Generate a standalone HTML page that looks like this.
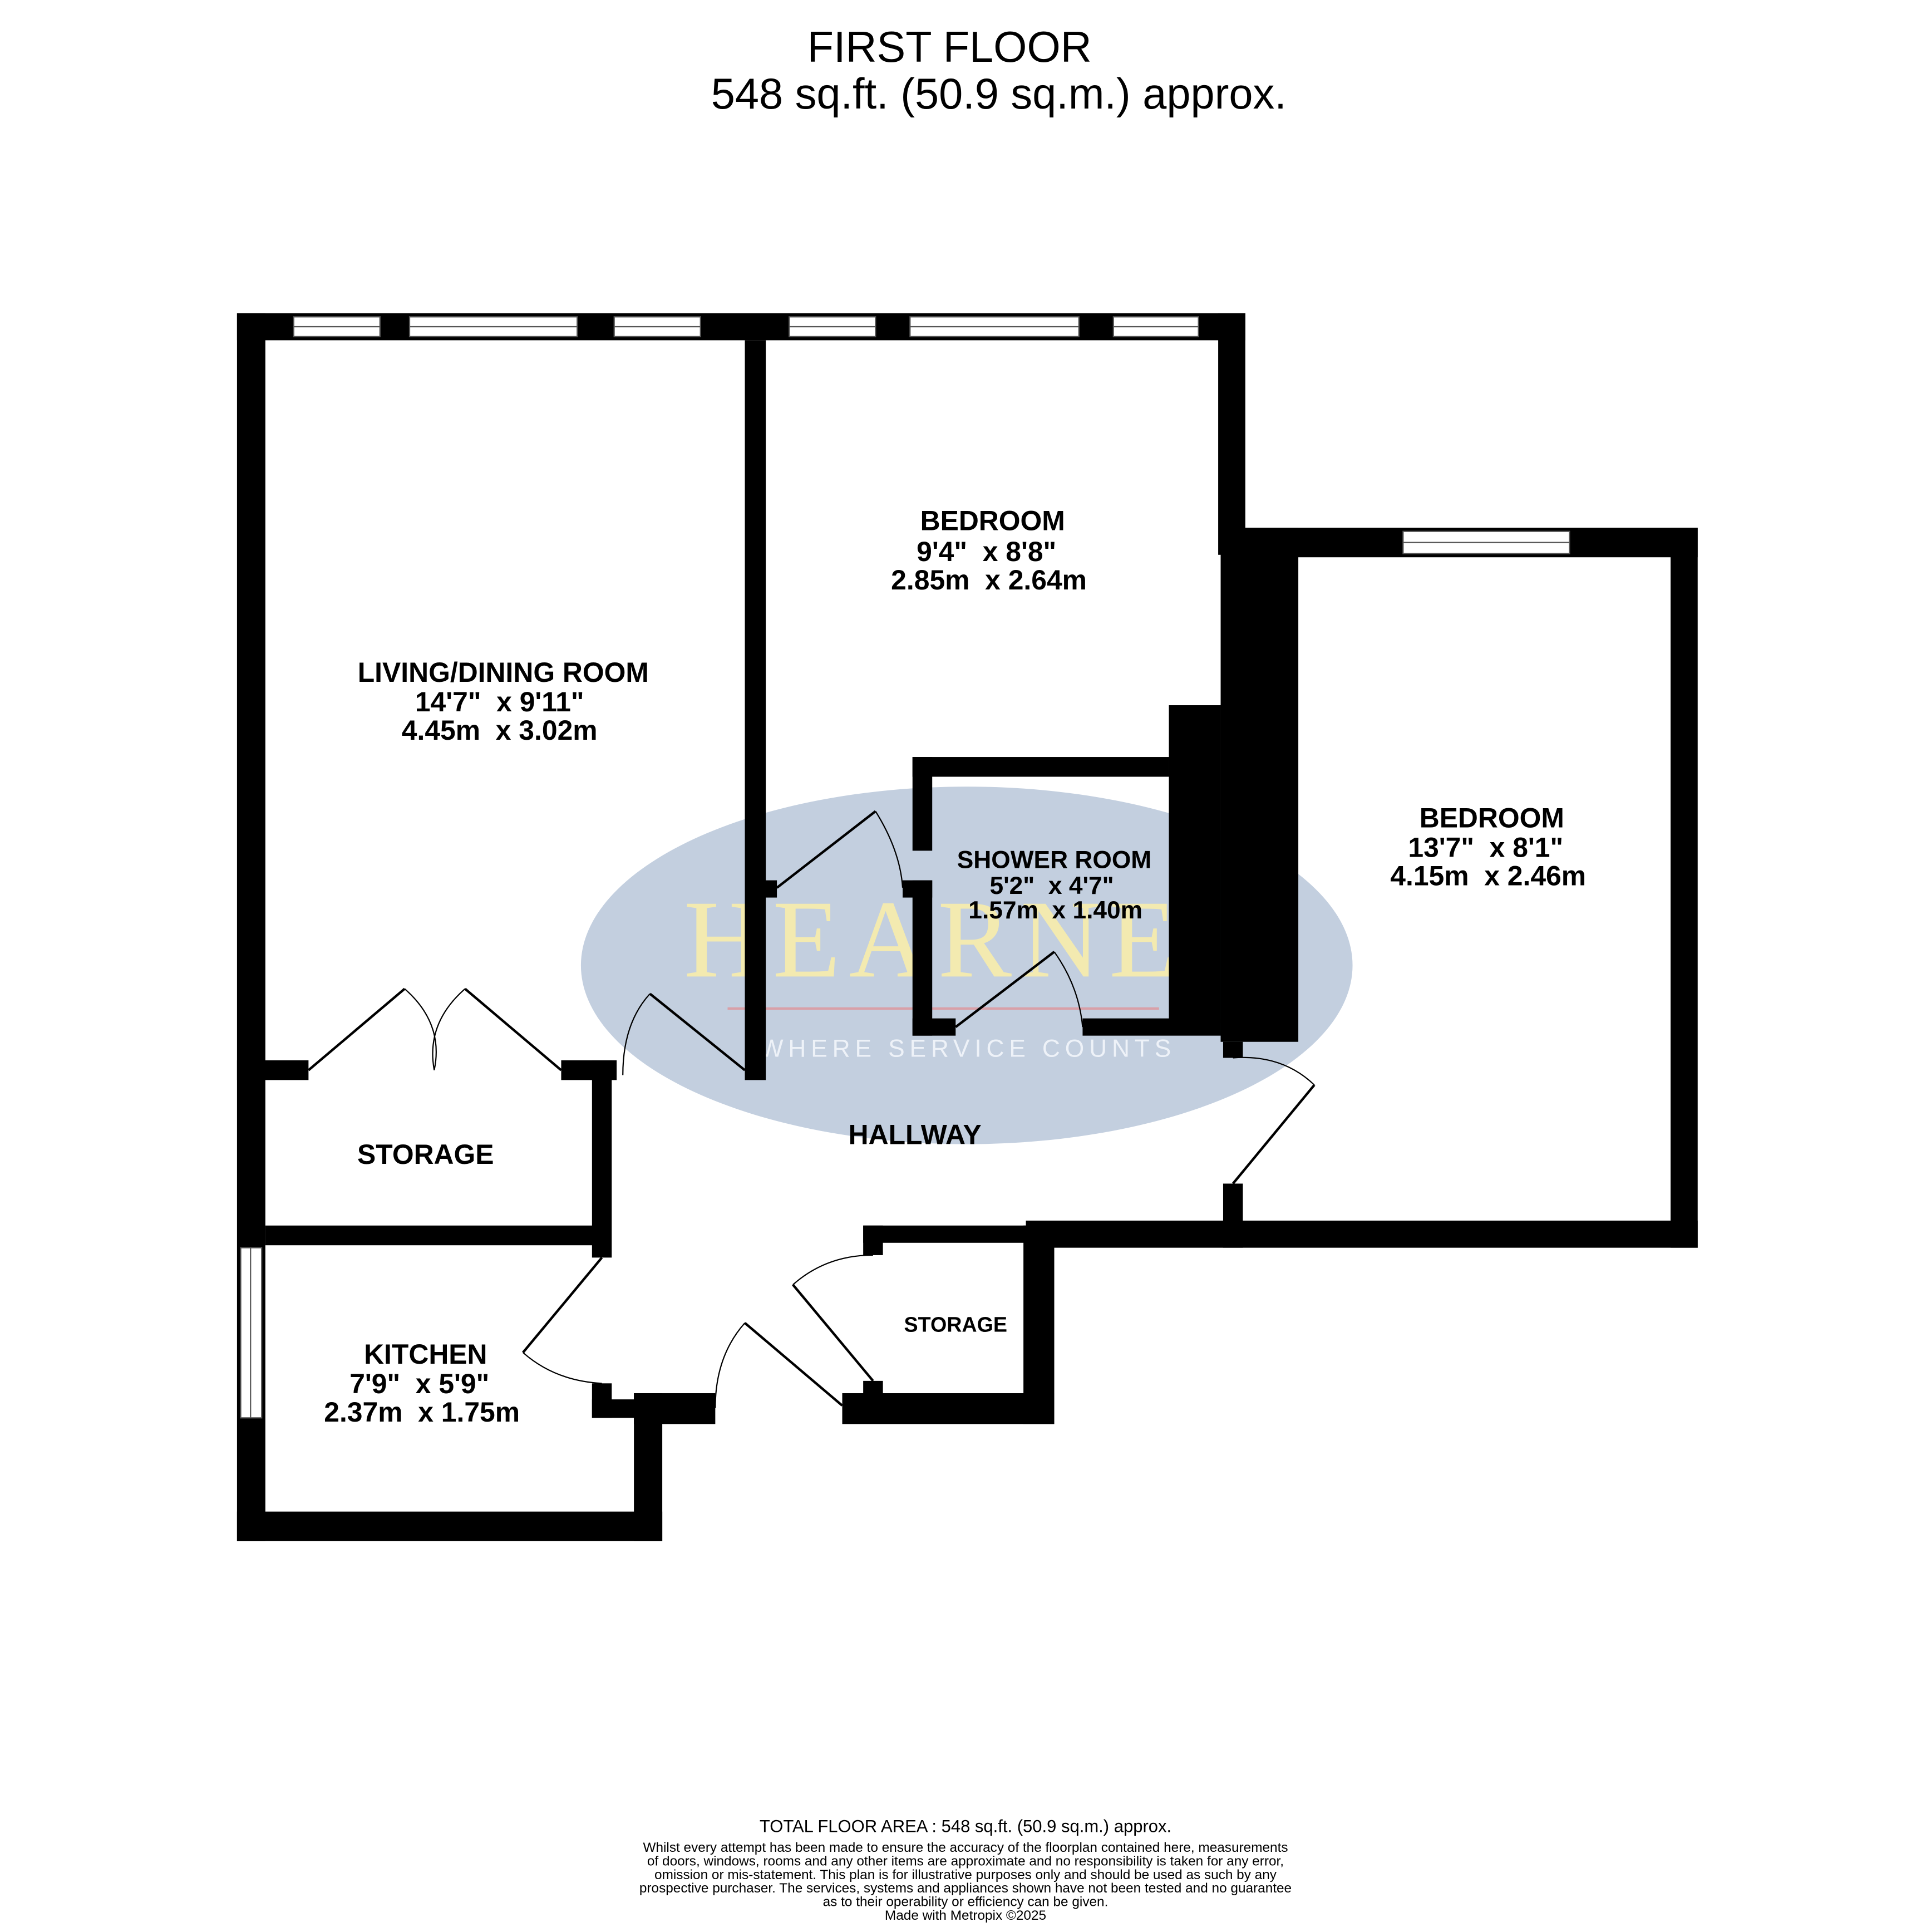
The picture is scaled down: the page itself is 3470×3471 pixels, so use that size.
<!DOCTYPE html>
<html><head><meta charset="utf-8"><style>
html,body{margin:0;padding:0;background:#fff;}
svg{display:block;}
text{font-family:"Liberation Sans",sans-serif;white-space:pre;}
</style></head><body>
<svg width="3470" height="3471" viewBox="0 0 1566 1567" xmlns="http://www.w3.org/2000/svg">
<rect width="1566" height="1567" fill="#fff"/>
<ellipse cx="784" cy="783" rx="313" ry="145" fill="#c3cfdf"/>
<text x="758" y="792" text-anchor="middle" font-size="90" fill="#f3eab0" letter-spacing="7" style="font-family:'Liberation Serif',serif">HEARNE</text>
<line x1="590" y1="818" x2="940" y2="818" stroke="#d9a0a8" stroke-width="2"/>
<text x="785" y="857" text-anchor="middle" font-size="20" fill="#eef2f8" letter-spacing="4">WHERE SERVICE COUNTS</text>

<text x="770" y="50" text-anchor="middle" font-size="35">FIRST FLOOR</text>
<text x="810" y="88" text-anchor="middle" font-size="35">548 sq.ft. (50.9 sq.m.) approx.</text>

<g fill="#000">
<rect x="192" y="254" width="818" height="22"/>
<rect x="192" y="254" width="23" height="996"/>
<rect x="604" y="276" width="17" height="600"/>
<rect x="988" y="254" width="22" height="196"/>
<rect x="1010" y="428" width="367" height="24"/>
<rect x="1355" y="428" width="22" height="584"/>
<rect x="832" y="990" width="545" height="22"/>
<rect x="990" y="428" width="63" height="417"/>
<rect x="948" y="572" width="42" height="258"/>
<rect x="740" y="614" width="208" height="16"/>
<rect x="740" y="614" width="16" height="76"/>
<rect x="732" y="714" width="24" height="14"/>
<rect x="740" y="714" width="16" height="126"/>
<rect x="740" y="826" width="35" height="14"/>
<rect x="878" y="826" width="112" height="14"/>
<rect x="620" y="714" width="10" height="14"/>
<rect x="992" y="845" width="16" height="13"/>
<rect x="992" y="960" width="16" height="52"/>
<rect x="192" y="860" width="58" height="16"/>
<rect x="455" y="860" width="45" height="16"/>
<rect x="480" y="860" width="16" height="160"/>
<rect x="215" y="994" width="275" height="16"/>
<rect x="192" y="1226" width="345" height="24"/>
<rect x="514" y="1130" width="23" height="120"/>
<rect x="480" y="1122" width="16" height="28"/>
<rect x="480" y="1135" width="57" height="15"/>
<rect x="514" y="1130" width="66" height="25"/>
<rect x="700" y="994" width="155" height="14"/>
<rect x="700" y="994" width="16" height="24"/>
<rect x="830" y="994" width="25" height="161"/>
<rect x="683" y="1130" width="172" height="25"/>
<rect x="700" y="1120" width="16" height="20"/>
</g>
<g fill="#fff" stroke="#555" stroke-width="1">
<rect x="238" y="257" width="70" height="16"/><rect x="332" y="257" width="136" height="16"/><rect x="498" y="257" width="70" height="16"/>
<rect x="640" y="257" width="70" height="16"/><rect x="738" y="257" width="137" height="16"/><rect x="903" y="257" width="69" height="16"/>
<rect x="1138" y="431" width="135" height="18"/>
<rect x="195" y="1012" width="17" height="138"/>
</g>
<g stroke="#555" stroke-width="1">
<line x1="238" y1="265" x2="308" y2="265"/><line x1="332" y1="265" x2="468" y2="265"/><line x1="498" y1="265" x2="568" y2="265"/>
<line x1="640" y1="265" x2="710" y2="265"/><line x1="738" y1="265" x2="875" y2="265"/><line x1="903" y1="265" x2="972" y2="265"/>
<line x1="1138" y1="440" x2="1273" y2="440"/><line x1="203" y1="1012" x2="203" y2="1150"/>
</g>
<g stroke="#000" stroke-width="2" fill="none">
<line x1="250" y1="868" x2="328" y2="802"/><path d="M328 802 Q360 830 352 868" stroke-width="1"/>
<line x1="455" y1="868" x2="377" y2="802"/><path d="M377 802 Q345 830 352 868" stroke-width="1"/>
<line x1="604" y1="868" x2="527" y2="806"/><path d="M527 806 Q505 830 505 872" stroke-width="1"/>
<line x1="630" y1="720" x2="710" y2="658"/><path d="M710 658 Q730 690 732 720" stroke-width="1"/>
<line x1="775" y1="833" x2="855" y2="772"/><path d="M855 772 Q875 800 878 833" stroke-width="1"/>
<line x1="1000" y1="960" x2="1066" y2="880"/><path d="M1066 880 Q1040 855 1000 858" stroke-width="1"/>
<line x1="488" y1="1020" x2="424" y2="1097"/><path d="M424 1097 Q450 1120 488 1122" stroke-width="1"/>
<line x1="708" y1="1120" x2="643" y2="1042"/><path d="M643 1042 Q670 1018 708 1018" stroke-width="1"/>
<line x1="683" y1="1140" x2="604" y2="1073"/><path d="M604 1073 Q580 1100 580 1142" stroke-width="1"/>
</g>
<g font-weight="bold" text-anchor="middle" font-size="22.5">
<text x="805" y="430">BEDROOM</text><text x="800" y="455">9'4"  x 8'8"</text><text x="802" y="478">2.85m  x 2.64m</text>
<text x="408" y="553">LIVING/DINING ROOM</text><text x="405" y="577">14'7"  x 9'11"</text><text x="405" y="600">4.45m  x 3.02m</text>
<text x="1210" y="671">BEDROOM</text><text x="1205" y="695">13'7"  x 8'1"</text><text x="1207" y="718">4.15m  x 2.46m</text>
<text x="855" y="704" font-size="20">SHOWER ROOM</text><text x="853" y="725" font-size="20">5'2"  x 4'7"</text><text x="856" y="745" font-size="20">1.57m  x 1.40m</text>
<text x="345" y="944">STORAGE</text>
<text x="742" y="928">HALLWAY</text>
<text x="775" y="1080" font-size="17">STORAGE</text>
<text x="345" y="1106">KITCHEN</text><text x="340" y="1130">7'9"  x 5'9"</text><text x="342" y="1153">2.37m  x 1.75m</text>
</g>
<g text-anchor="middle" font-size="11">
<text x="783" y="1486" font-size="14">TOTAL FLOOR AREA : 548 sq.ft. (50.9 sq.m.) approx.</text>
<text x="783" y="1502">Whilst every attempt has been made to ensure the accuracy of the floorplan contained here, measurements</text>
<text x="783" y="1513">of doors, windows, rooms and any other items are approximate and no responsibility is taken for any error,</text>
<text x="783" y="1524">omission or mis-statement. This plan is for illustrative purposes only and should be used as such by any</text>
<text x="783" y="1535">prospective purchaser. The services, systems and appliances shown have not been tested and no guarantee</text>
<text x="783" y="1546">as to their operability or efficiency can be given.</text>
<text x="783" y="1557">Made with Metropix ©2025</text>
</g>
</svg>
</body></html>
